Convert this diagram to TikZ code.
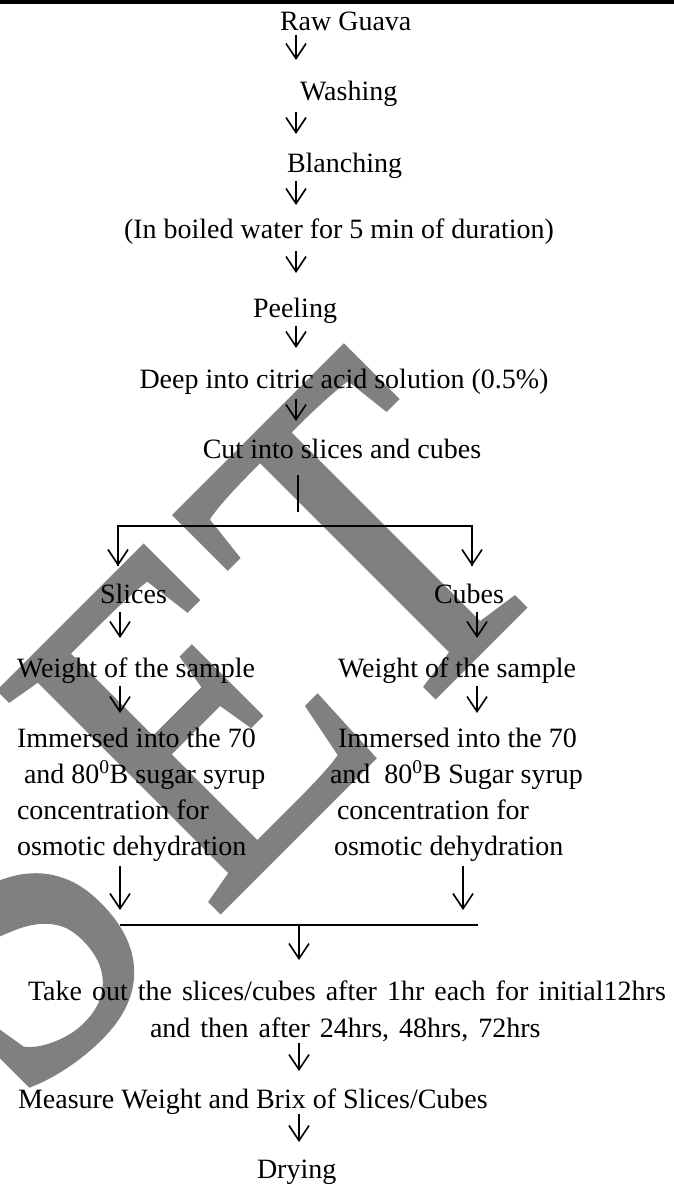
\documentclass[tikz,border=0pt]{standalone}
\usepackage{fontspec}
\setmainfont{Liberation Serif}
\newfontfamily\wmfont{Liberation Serif}[FakeBold=1.2]
\usetikzlibrary{arrows.meta}
\newcommand\widespc{\spaceskip=10pt\relax}
\begin{document}
\begin{tikzpicture}[x=1pt,y=-1pt,
  tx/.style={inner sep=0pt, outer sep=0pt, font=\fontsize{28}{34}\selectfont},
  arr/.style={line width=1.6pt, -{Straight Barb[length=15pt,width=20pt]}},
  ln/.style={line width=1.6pt},
  wm/.style={inner sep=0pt, text=black!50, rotate=45, anchor=base east, font=\wmfont\fontsize{475}{475}\selectfont}]
\useasboundingbox (0,0) rectangle (674,1185);
% watermark
\begin{scope}
\clip (0,0) rectangle (674,1185);
\node[wm] (wmb) at (569,562) {\scalebox{0.87}[1]{ET}};
\node[wm] (wma) at (181,950) {\scalebox{0.87}[1]{IJS}};
\end{scope}
% top rule
\fill (0,0) rectangle (674,4);
% main column
\node[tx, anchor=base west] (raw) at (280,31) {Raw Guava};
\coordinate (a1s) at (296,35); \coordinate (a1e) at (296,60);
\node[tx, anchor=base west] (wash) at (300,101) {Washing};
\coordinate (a2s) at (296,112); \coordinate (a2e) at (296,134);
\node[tx, anchor=base west] (blanch) at (287,173) {Blanching};
\coordinate (a3s) at (296,181); \coordinate (a3e) at (296,205);
\node[tx, anchor=base] (boil) at (339,238) {(In boiled water for 5 min of duration)};
\coordinate (a4s) at (296,251); \coordinate (a4e) at (296,273);
\node[tx, anchor=base west] (peel) at (253,317) {Peeling};
\coordinate (a5s) at (296,326); \coordinate (a5e) at (296,348);
\node[tx, anchor=base] (dip) at (344,388) {Deep into citric acid solution (0.5\%)};
\coordinate (a6s) at (296,399); \coordinate (a6e) at (296,421);
\node[tx, anchor=base] (cut) at (342,458) {Cut into slices and cubes};
\coordinate (v1s) at (298,475); \coordinate (v1e) at (298,512);
\coordinate (hl) at (118,526); \coordinate (hr) at (472,526);
\coordinate (hle) at (118,566); \coordinate (hre) at (472,566);
% branches
\node[tx, anchor=base west] (slices) at (100,603) {Slices};
\node[tx, anchor=base west] (cubes) at (434,603) {Cubes};
\coordinate (b1s) at (120,612); \coordinate (b1e) at (120,638);
\coordinate (c1s) at (477,612); \coordinate (c1e) at (477,638);
\node[tx, anchor=base west] (wl) at (17,677) {Weight of the sample};
\node[tx, anchor=base west] (wr) at (338,677) {Weight of the sample};
\coordinate (b2s) at (120,686); \coordinate (b2e) at (120,713);
\coordinate (c2s) at (477,686); \coordinate (c2e) at (477,713);
\node[tx, anchor=base west] (l1) at (17,747) {Immersed into the 70};
\node[tx, anchor=base west] (l2) at (24,783) {and 80\textsuperscript{0}B sugar syrup};
\node[tx, anchor=base west] (l3) at (17,819) {concentration for};
\node[tx, anchor=base west] (l4) at (17,855) {osmotic dehydration};
\node[tx, anchor=base west] (r1) at (338,747) {Immersed into the 70};
\node[tx, anchor=base west] (r2) at (330,783) {and\ \ 80\textsuperscript{0}B Sugar syrup};
\node[tx, anchor=base west] (r3) at (337,819) {concentration for};
\node[tx, anchor=base west] (r4) at (334,855) {osmotic dehydration};
\coordinate (b3s) at (120,866); \coordinate (b3e) at (120,910);
\coordinate (c3s) at (463,866); \coordinate (c3e) at (463,910);
\coordinate (jl) at (120,925); \coordinate (jr) at (478,925);
\coordinate (jm) at (299,925); \coordinate (jme) at (299,960);
\node[tx, anchor=base west] (take1) at (28,1000) {\widespc Take out the slices/cubes after 1hr each for initial12hrs};
\node[tx, anchor=base west] (take2) at (150,1037) {\widespc and then after 24hrs, 48hrs, 72hrs};
\coordinate (d1s) at (299,1043); \coordinate (d1e) at (299,1071);
\node[tx, anchor=base west] (meas) at (18,1108) {Measure Weight and Brix of Slices/Cubes};
\coordinate (d2s) at (299,1114); \coordinate (d2e) at (299,1142);
\node[tx, anchor=base west] (dry) at (257,1178) {Drying};
% connectors
\draw[arr] (a1s) -- (a1e);
\draw[arr] (a2s) -- (a2e);
\draw[arr] (a3s) -- (a3e);
\draw[arr] (a4s) -- (a4e);
\draw[arr] (a5s) -- (a5e);
\draw[arr] (a6s) -- (a6e);
\draw[ln] (v1s) -- (v1e);
\draw[ln] (hle) -- (hl) -- (hr) -- (hre);
\draw[arr] (hl) -- (hle);
\draw[arr] (hr) -- (hre);
\draw[arr] (b1s) -- (b1e);
\draw[arr] (c1s) -- (c1e);
\draw[arr] (b2s) -- (b2e);
\draw[arr] (c2s) -- (c2e);
\draw[arr] (b3s) -- (b3e);
\draw[arr] (c3s) -- (c3e);
\draw[ln] (jl) -- (jr);
\draw[arr] (jm) -- (jme);
\draw[arr] (d1s) -- (d1e);
\draw[arr] (d2s) -- (d2e);
\end{tikzpicture}
\end{document}
